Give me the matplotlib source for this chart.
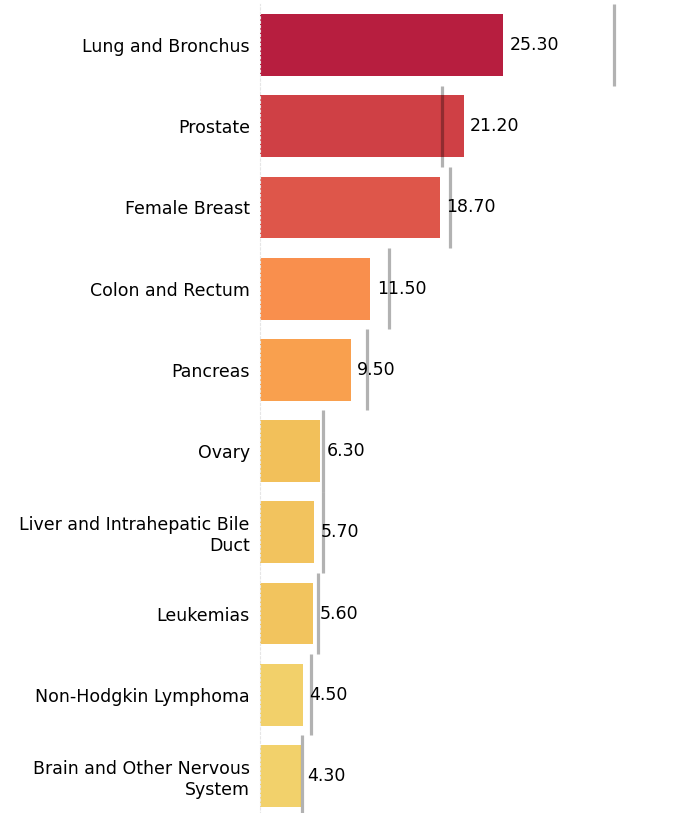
import matplotlib.pyplot as plt

# Dados
sites = ["Lung and Bronchus", "Prostate", "Female Breast", "Colon and Rectum",
         "Pancreas", "Ovary", "Liver and Intrahepatic Bile\nDuct", "Leukemias",
         "Non-Hodgkin Lymphoma", "Brain and Other Nervous\nSystem"]
rates = [25.30, 21.20, 18.70, 11.50, 9.50, 6.30, 5.70, 5.60, 4.50, 4.30]
ref_rates = [36.8, 18.9, 19.8, 13.4, 11.1, 6.6, 6.6, 6.1, 5.3, 4.4]
colors = ["#b71e3f", "#cf4045", "#de564a", "#f98f4d", "#f9a04e",
          "#f2c05a", "#f2c35e", "#f2c45e", "#f2d06a", "#f2d16b"]

fig = plt.figure(figsize=(6.91, 8.13), dpi=100)
ax = fig.add_axes([259.5 / 691, -0.0044, 1 - 259.5 / 691, 0.999])

pos = list(range(len(sites)))
ax.barh(pos, rates, height=0.76, color=colors)
ax.vlines(ref_rates, [p - 0.5 for p in pos], [p + 0.5 for p in pos],
          color="black", alpha=0.3, linewidth=2.3)

for p, v in zip(pos, rates):
    ax.text(v + 0.65, p, f"{v:.2f}", va="center", ha="left", fontsize=12.5, color="black")

ax.set_xlim(0, (691 - 259.5) / 9.64)
ax.set_ylim(9.5, -0.5)
ax.set_yticks(pos)
ax.set_yticklabels(sites, fontsize=12.5)
ax.tick_params(axis="y", length=0, pad=7)
ax.set_xticks([])
for s in ["top", "right", "bottom"]:
    ax.spines[s].set_visible(False)
ax.spines["left"].set_color("#e6e6e6")
ax.spines["left"].set_linestyle((0, (2, 2)))
ax.spines["left"].set_linewidth(0.8)

fig.savefig("out.png", dpi=100)
